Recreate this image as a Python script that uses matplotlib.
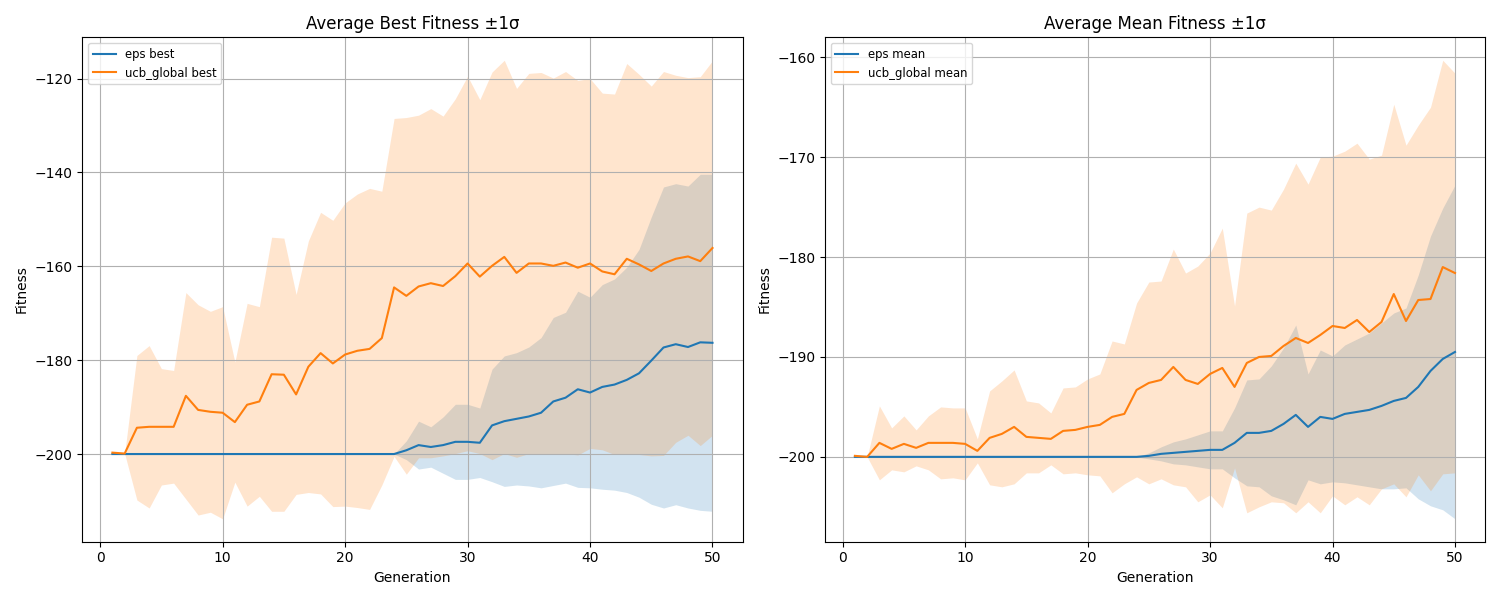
import numpy as np
import matplotlib
matplotlib.use("Agg")
import matplotlib.pyplot as plt

generations = np.arange(1, 51)

# best fitness: eps
eps_best_mean = [-200.0] * 24 + [
    -199.2, -198.1, -198.5, -198.1, -197.4, -197.4, -197.6, -193.9, -193.0, -192.5,
    -192.0, -191.2, -188.8, -188.0, -186.2, -186.9, -185.7, -185.2, -184.2, -182.8,
    -180.1, -177.3, -176.6, -177.2, -176.2, -176.3]
eps_best_std = [0.0] * 24 + [
    2.0, 5.1, 4.3, 6.0, 8.0, 8.0, 7.4, 12.0, 13.9, 14.1,
    14.8, 16.0, 17.9, 18.2, 20.9, 20.3, 21.8, 22.5, 24.0, 26.4,
    30.6, 34.2, 34.2, 34.3, 35.8, 35.9]

# best fitness: ucb_global
ucb_best_mean = [
    -199.7, -199.9, -194.4, -194.2, -194.2, -194.2, -187.6, -190.6, -191.0, -191.2,
    -193.2, -189.5, -188.8, -183.0, -183.1, -187.3, -181.4, -178.5, -180.7, -178.8,
    -178.0, -177.6, -175.3, -164.5, -166.3, -164.3, -163.6, -164.2, -162.1, -159.4,
    -162.2, -159.9, -158.0, -161.4, -159.4, -159.4, -159.9, -159.2, -160.3, -159.4,
    -161.1, -161.7, -158.4, -159.6, -161.0, -159.4, -158.4, -157.9, -158.9, -156.1]
ucb_best_std = [
    0.0, 0.0, 15.4, 17.3, 12.4, 12.0, 22.0, 22.4, 21.4, 22.6,
    12.8, 21.6, 20.2, 29.2, 29.1, 21.3, 26.8, 30.0, 30.5, 32.3,
    33.4, 34.2, 31.3, 36.0, 38.0, 36.5, 37.2, 36.2, 37.8, 39.9,
    37.7, 41.3, 41.9, 39.3, 40.5, 40.7, 40.0, 40.7, 39.9, 39.4,
    38.0, 38.4, 41.6, 40.5, 39.4, 40.9, 39.1, 38.1, 39.3, 39.9]

# mean fitness: eps
eps_mean_mean = [-200.0] * 24 + [
    -199.9, -199.7, -199.6, -199.5, -199.4, -199.3, -199.3, -198.6, -197.6, -197.6,
    -197.4, -196.7, -195.8, -197.0, -196.0, -196.2, -195.7, -195.5, -195.3, -194.9,
    -194.4, -194.1, -193.0, -191.4, -190.2, -189.5]
eps_mean_std = [0.0] * 24 + [
    0.3, 0.7, 1.1, 1.3, 1.6, 1.9, 1.9, 3.5, 5.3, 5.4,
    6.5, 7.6, 9.0, 5.3, 6.7, 6.3, 6.9, 7.3, 7.7, 8.3,
    8.8, 9.0, 11.2, 13.5, 15.1, 16.7]

# mean fitness: ucb_global
ucb_mean_mean = [
    -199.9, -200.0, -198.6, -199.2, -198.7, -199.1, -198.6, -198.6, -198.6, -198.7,
    -199.4, -198.1, -197.7, -197.0, -198.0, -198.1, -198.2, -197.4, -197.3, -197.0,
    -196.8, -196.0, -195.7, -193.3, -192.6, -192.3, -191.0, -192.3, -192.7, -191.7,
    -191.1, -193.0, -190.6, -190.0, -189.9, -188.9, -188.1, -188.6, -187.8, -186.9,
    -187.1, -186.3, -187.5, -186.5, -183.7, -186.4, -184.3, -184.2, -181.0, -181.6]
ucb_mean_std = [
    0.0, 0.0, 3.7, 2.1, 2.8, 1.8, 2.7, 3.6, 3.5, 3.6,
    1.2, 4.7, 5.3, 5.7, 3.6, 3.5, 2.6, 4.3, 4.3, 4.8,
    5.1, 7.6, 7.0, 8.7, 10.1, 9.9, 11.8, 10.7, 11.8, 12.1,
    14.0, 8.1, 15.0, 15.0, 14.6, 15.7, 17.5, 15.9, 17.8, 17.0,
    17.7, 17.7, 17.3, 16.7, 19.0, 17.6, 17.5, 19.2, 20.7, 20.0]

panels = [
    ("Average Best Fitness \u00b11\u03c3", "best",
     [("eps", eps_best_mean, eps_best_std), ("ucb_global", ucb_best_mean, ucb_best_std)]),
    ("Average Mean Fitness \u00b11\u03c3", "mean",
     [("eps", eps_mean_mean, eps_mean_std), ("ucb_global", ucb_mean_mean, ucb_mean_std)]),
]

fig, axes = plt.subplots(1, 2, figsize=(15, 6), dpi=100)

for ax, (title, kind, series) in zip(axes, panels):
    for name, mean, std in series:
        mean = np.array(mean)
        std = np.array(std)
        line, = ax.plot(generations, mean, label=f"{name} {kind}")
        ax.fill_between(generations, mean - std, mean + std,
                        color=line.get_color(), alpha=0.2, linewidth=0)
    ax.set_title(title)
    ax.set_xlabel("Generation")
    ax.set_ylabel("Fitness")
    ax.grid(True)
    ax.legend(loc="upper left", fontsize="small")

fig.tight_layout()
fig.savefig("out.png")
